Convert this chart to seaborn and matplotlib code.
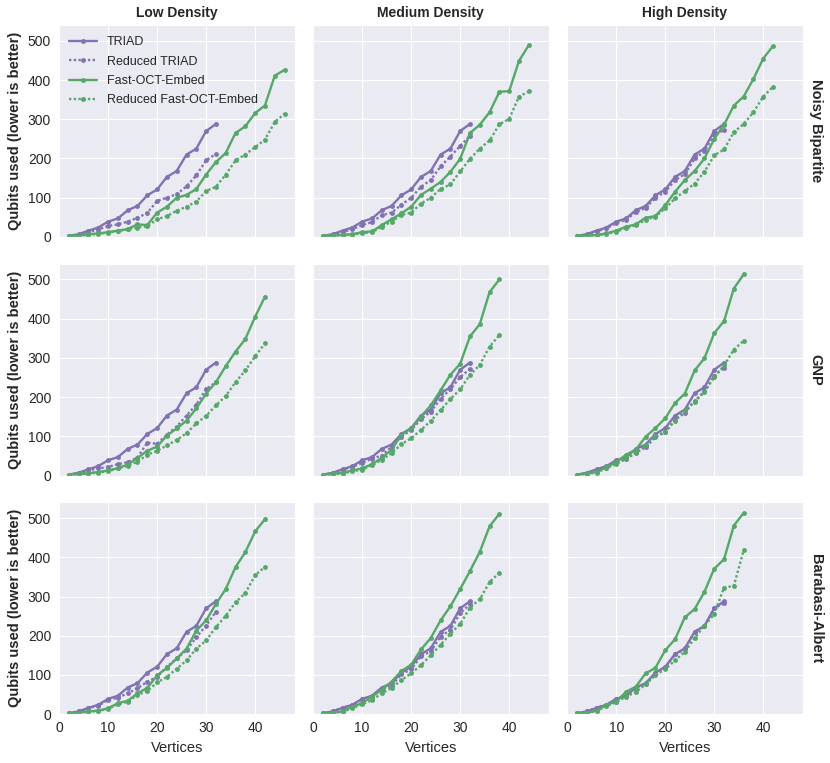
import pandas as pd
import matplotlib
matplotlib.use("Agg")
import matplotlib.pyplot as plt
import seaborn as sns

# vertices sampled in the experiments
VERTICES = [2, 4, 6, 8, 10, 12, 14, 16, 18, 20, 22, 24, 26, 28, 30, 32,
            34, 36, 38, 40, 42, 44, 46]

DENSITIES = ["Low Density", "Medium Density", "High Density"]
GRAPHS = ["Noisy Bipartite", "GNP", "Barabasi-Albert"]
METHODS = ["TRIAD", "Reduced TRIAD", "Fast-OCT-Embed", "Reduced Fast-OCT-Embed"]

# TRIAD embeds the complete graph, so it is the same in every panel
TRIAD = [2.5, 7, 16, 24, 39, 47, 68, 79, 106, 121, 153, 168, 210, 225, 270, 288]

# Noisy Bipartite
NB_RED_TRIAD = {
    "Low Density": [2.5, 5, 12.7, 18.6, 28, 32, 39, 49, 61, 92, 100, 109, 129, 157, 195, 212],
    "Medium Density": [2.5, 5, 12, 20, 30, 38, 55, 62, 82, 100, 128, 145, 180, 205, 232, 258],
    "High Density": [2.5, 6, 14, 22, 35, 44, 63, 74, 100, 115, 145, 160, 200, 218, 262, 272],
}
NB_OCT = {
    "Low Density": [2.5, 4, 7, 9, 12, 16, 20, 32, 30, 62, 77, 100, 107, 122, 159, 191, 214,
                    265, 282, 316, 335, 411, 426],
    "Medium Density": [2.5, 4, 5, 7, 12, 14, 30, 45, 60, 77, 107, 123, 140, 166, 199, 265,
                       286, 318, 370, 372, 449, 489],
    "High Density": [2.5, 3.4, 5, 9, 16, 26, 32, 49, 53, 81, 115, 145, 168, 200, 250, 286,
                     335, 358, 403, 455, 487],
}
NB_RED_OCT = {
    "Low Density": [2.5, 3.4, 5, 7.6, 11, 15, 19, 24, 27, 45, 53, 67, 77, 90, 117, 128, 159,
                    195, 210, 229, 248, 293, 314],
    "Medium Density": [2.5, 3.4, 4, 6, 9, 12, 26, 39, 56, 62, 85, 100, 122, 134, 167, 199,
                       225, 246, 287, 301, 358, 371],
    "High Density": [2.5, 3.4, 4, 7.6, 13.5, 22, 30, 43, 52, 73, 98, 117, 136, 166, 208, 223,
                     267, 288, 318, 358, 383],
}

# GNP
GNP_RED_TRIAD = {
    "Low Density": [2.5, 6, 13, 18, 22, 29, 34, 46, 84, 81, 104, 125, 153, 181, 220, 238],
    "Medium Density": [2.5, 6, 15, 22, 32, 43, 51, 74, 99, 116, 144, 163, 196, 220, 251, 272],
    "High Density": [2.5, 5, 12, 20, 33, 42, 58, 72, 98, 110, 142, 160, 190, 215, 255, 275],
}
GNP_OCT = {
    "Low Density": [2.5, 4, 6, 9, 13, 19, 28, 45, 63, 74, 102, 120, 140, 171, 209, 238, 279,
                    316, 348, 405, 456],
    "Medium Density": [2.5, 4, 7, 13, 18, 29, 45, 66, 104, 120, 150, 179, 217, 257, 285, 355,
                       386, 468, 500],
    "High Density": [2.5, 5, 9, 22, 34, 53, 66, 99, 121, 146, 185, 209, 268, 299, 363, 394,
                     477, 513],
}
GNP_RED_OCT = {
    "Low Density": [2.5, 3.4, 5, 7.6, 11, 18, 25, 35, 53, 63, 77, 91, 108, 133, 152, 179, 203,
                    238, 268, 304, 337],
    "Medium Density": [2.5, 3.4, 5, 11, 15, 26, 40, 57, 80, 95, 116, 139, 167, 195, 220, 257,
                       282, 329, 358],
    "High Density": [2.5, 4, 7.6, 19, 29, 43, 59, 78, 101, 112, 140, 167, 188, 213, 251, 281,
                     321, 344],
}

# Barabasi-Albert
BA_RED_TRIAD = {
    "Low Density": [2.5, 7, 15, 22, 36, 42, 53, 66, 83, 95, 121, 142, 163, 196, 226, 261],
    "Medium Density": [2.5, 7, 17, 23, 38, 45, 62, 73, 102, 114, 148, 160, 198, 215, 258, 280],
    "High Density": [2.5, 7, 17, 24, 38, 46, 66, 76, 104, 118, 153, 165, 210, 225, 270, 283],
}
BA_OCT = {
    "Low Density": [2.5, 4, 7, 9, 15, 28, 34, 53, 67, 99, 118, 142, 167, 213, 239, 281, 319,
                    375, 413, 466, 497],
    "Medium Density": [2.5, 4, 7, 19, 28, 45, 62, 83, 110, 126, 165, 194, 239, 275, 319, 365,
                       414, 479, 511],
    "High Density": [2.5, 4, 9, 24, 32, 57, 70, 104, 118, 163, 191, 247, 268, 312, 371, 395,
                     481, 513],
}
BA_RED_OCT = {
    "Low Density": [2, 3.4, 6, 8.4, 13.5, 25, 32, 49, 59, 81, 95, 116, 137, 167, 188, 222, 251,
                    285, 309, 354, 376],
    "Medium Density": [2.5, 3.4, 6, 15, 25, 36, 53, 67, 87, 104, 125, 150, 177, 205, 230, 272,
                       293, 337, 361],
    "High Density": [2.5, 3.4, 7.6, 21, 30, 45, 56, 76, 99, 115, 137, 159, 194, 226, 255, 323,
                     327, 418],
}

RESULTS = {
    "Noisy Bipartite": (NB_RED_TRIAD, NB_OCT, NB_RED_OCT),
    "GNP": (GNP_RED_TRIAD, GNP_OCT, GNP_RED_OCT),
    "Barabasi-Albert": (BA_RED_TRIAD, BA_OCT, BA_RED_OCT),
}

# build one long table
rows = []
for graph in GRAPHS:
    red_triad, oct_, red_oct = RESULTS[graph]
    for dens in DENSITIES:
        series = {
            "TRIAD": TRIAD,
            "Reduced TRIAD": red_triad[dens],
            "Fast-OCT-Embed": oct_[dens],
            "Reduced Fast-OCT-Embed": red_oct[dens],
        }
        for method, vals in series.items():
            for v, q in zip(VERTICES, vals):
                rows.append({"graph": graph, "density": dens, "method": method,
                             "Vertices": v, "qubits": q})
df = pd.DataFrame(rows)

sns.set_style("darkgrid")
plt.rcParams["font.family"] = ["Liberation Sans", "DejaVu Sans"]
plt.rcParams["text.color"] = "#262626"
plt.rcParams["xtick.color"] = "#262626"
plt.rcParams["ytick.color"] = "#262626"

palette = {"TRIAD": "#8172B2", "Reduced TRIAD": "#8172B2",
           "Fast-OCT-Embed": "#55A868", "Reduced Fast-OCT-Embed": "#55A868"}
dashes = {"TRIAD": "", "Reduced TRIAD": (1, 1),
          "Fast-OCT-Embed": "", "Reduced Fast-OCT-Embed": (1, 1)}

fig, axes = plt.subplots(3, 3, figsize=(8.3, 7.63), dpi=100, sharex=True, sharey=True)
fig.subplots_adjust(left=0.07, right=0.968, top=0.967, bottom=0.064,
                    wspace=0.071, hspace=0.127)

for i, graph in enumerate(GRAPHS):
    for j, dens in enumerate(DENSITIES):
        ax = axes[i, j]
        sub = df[(df.graph == graph) & (df.density == dens)]
        sns.lineplot(data=sub, x="Vertices", y="qubits", hue="method", style="method",
                     hue_order=METHODS, style_order=METHODS, palette=palette,
                     dashes=dashes, markers={m: "o" for m in METHODS},
                     markersize=3.5, markeredgewidth=0, linewidth=1.7, ax=ax,
                     legend=(i == 0 and j == 0))
        ax.set_xlim(-0.2, 48.2)
        ax.set_ylim(0, 540)
        ax.set_xticks([0, 10, 20, 30, 40])
        ax.set_yticks([0, 100, 200, 300, 400, 500])
        ax.tick_params(labelsize=10, length=0, pad=5)
        if i == 0:
            ax.set_title(dens, fontsize=10, fontweight="bold", pad=6)
        if j == 0:
            ax.set_ylabel("Qubits used (lower is better)", fontsize=10.5, fontweight="bold")
        else:
            ax.set_ylabel("")
        if i == 2:
            ax.set_xlabel("Vertices", fontsize=10.5)
        else:
            ax.set_xlabel("")
        if j == 2:
            ax.text(1.022, 0.5, graph, transform=ax.transAxes, rotation=270,
                    ha="left", va="center", fontsize=10.5, fontweight="bold")

leg = axes[0, 0].legend(loc="upper left", frameon=False, fontsize=9,
                        handlelength=2.2, borderaxespad=0.5, labelspacing=0.58)
leg.set_title(None)

fig.savefig("out.png", dpi=100)
